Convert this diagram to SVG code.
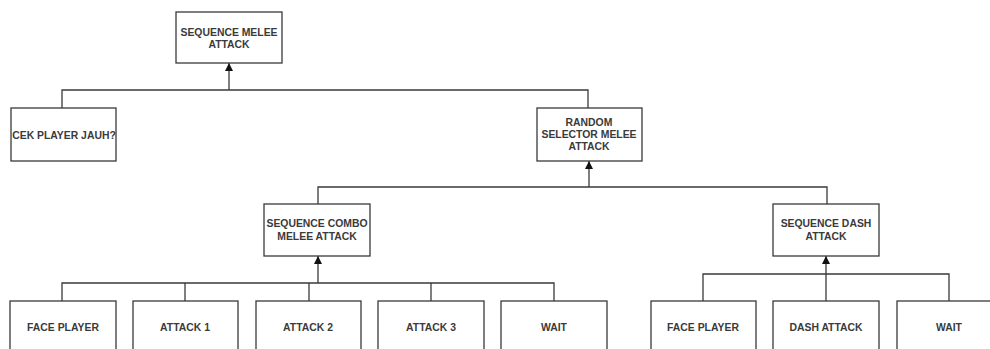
<svg xmlns="http://www.w3.org/2000/svg" width="990" height="349" viewBox="0 0 990 349">
  <style>
    .box { fill: #ffffff; stroke: #3a3a3a; stroke-width: 1.3; }
    .lbl { font-family: "Liberation Sans", Arial, sans-serif; font-size: 10.4px; font-weight: bold; fill: #3a3a3a; text-anchor: middle; }
    .wire { fill: none; stroke: #3a3a3a; stroke-width: 1.3; }
  </style>
  <defs>
    <marker id="arrow" viewBox="0 0 8 8" refX="8" refY="4" markerWidth="8" markerHeight="8" markerUnits="userSpaceOnUse" orient="auto">
      <path d="M0,0 L8,4 L0,8 Z" fill="#111111"/>
    </marker>
  </defs>
  <rect width="990" height="349" fill="#ffffff"/>

  <g id="connectors">
    <!-- root level -->
    <path class="wire" d="M62,108 V90 H588 V108"/>
    <path class="wire" d="M229,90 V63" marker-end="url(#arrow)"/>
    <!-- random selector level -->
    <path class="wire" d="M318,204 V187 H827 V204"/>
    <path class="wire" d="M589,187 V161" marker-end="url(#arrow)"/>
    <!-- combo sequence children -->
    <path class="wire" d="M62,301 V283 H554 V301"/>
    <path class="wire" d="M185,283 V301"/>
    <path class="wire" d="M309,283 V301"/>
    <path class="wire" d="M431,283 V301"/>
    <path class="wire" d="M318,283 V256" marker-end="url(#arrow)"/>
    <!-- dash sequence children -->
    <path class="wire" d="M703,301 V274 H949 V301"/>
    <path class="wire" d="M826,301 V256" marker-end="url(#arrow)"/>
  </g>

  <g id="seq-melee-attack">
    <rect class="box" x="176" y="12" width="106" height="51"/>
    <text class="lbl" x="229" y="36">SEQUENCE MELEE</text>
    <text class="lbl" x="229" y="48">ATTACK</text>
  </g>
  <g id="cek-player-jauh">
    <rect class="box" x="11" y="108" width="105" height="53"/>
    <text class="lbl" x="64" y="138.5">CEK PLAYER JAUH?</text>
  </g>
  <g id="random-selector-melee-attack">
    <rect class="box" x="537" y="108" width="105" height="53"/>
    <text class="lbl" x="589" y="125.5">RANDOM</text>
    <text class="lbl" x="589" y="137.5">SELECTOR MELEE</text>
    <text class="lbl" x="589" y="149.5">ATTACK</text>
  </g>
  <g id="seq-combo-melee-attack">
    <rect class="box" x="264" y="204" width="106" height="52"/>
    <text class="lbl" x="317" y="226.5">SEQUENCE COMBO</text>
    <text class="lbl" x="317" y="239.5">MELEE ATTACK</text>
  </g>
  <g id="seq-dash-attack">
    <rect class="box" x="773" y="204" width="106" height="52"/>
    <text class="lbl" x="826" y="226.5">SEQUENCE DASH</text>
    <text class="lbl" x="826" y="239.5">ATTACK</text>
  </g>

  <g id="face-player-1">
    <rect class="box" x="10" y="301" width="106" height="60"/>
    <text class="lbl" x="63" y="330.5">FACE PLAYER</text>
  </g>
  <g id="attack-1">
    <rect class="box" x="133" y="301" width="105" height="60"/>
    <text class="lbl" x="185" y="330.5">ATTACK 1</text>
  </g>
  <g id="attack-2">
    <rect class="box" x="256" y="301" width="105" height="60"/>
    <text class="lbl" x="308" y="330.5">ATTACK 2</text>
  </g>
  <g id="attack-3">
    <rect class="box" x="378" y="301" width="106" height="60"/>
    <text class="lbl" x="431" y="330.5">ATTACK 3</text>
  </g>
  <g id="wait-1">
    <rect class="box" x="501" y="301" width="106" height="60"/>
    <text class="lbl" x="554" y="330.5">WAIT</text>
  </g>
  <g id="face-player-2">
    <rect class="box" x="651" y="301" width="105" height="60"/>
    <text class="lbl" x="703" y="330.5">FACE PLAYER</text>
  </g>
  <g id="dash-attack">
    <rect class="box" x="773" y="301" width="106" height="60"/>
    <text class="lbl" x="826" y="330.5">DASH ATTACK</text>
  </g>
  <g id="wait-2">
    <rect class="box" x="897" y="301" width="105" height="60"/>
    <text class="lbl" x="949" y="330.5">WAIT</text>
  </g>
</svg>
